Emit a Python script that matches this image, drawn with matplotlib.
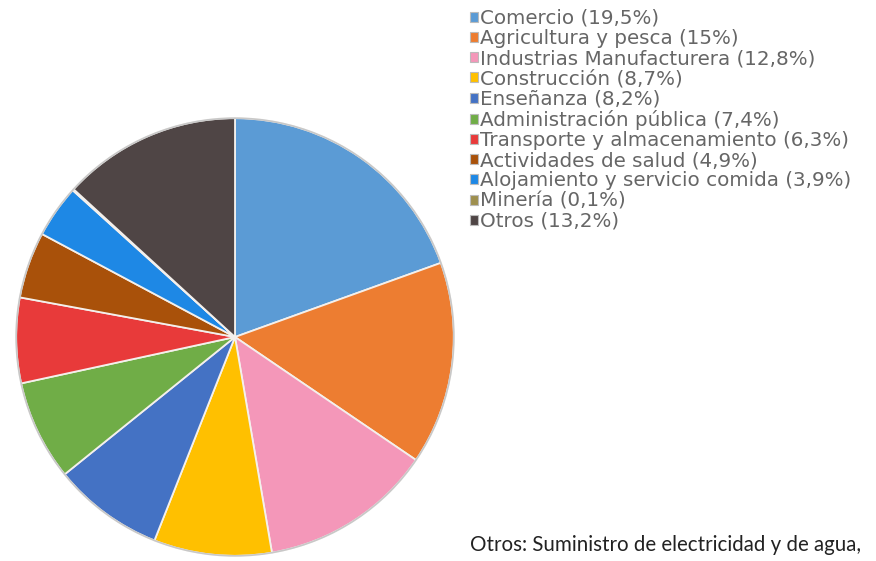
import matplotlib.pyplot as plt

# sector shares (%)
sectores = ['Comercio', 'Agricultura y pesca', 'Industrias Manufacturera', 'Construcción',
            'Enseñanza', 'Administración pública', 'Transporte y almacenamiento',
            'Actividades de salud', 'Alojamiento y servicio comida', 'Minería', 'Otros']
porcentajes = [19.5, 15, 12.8, 8.7, 8.2, 7.4, 6.3, 4.9, 3.9, 0.1, 13.2]
etiquetas = ['19,5%', '15%', '12,8%', '8,7%', '8,2%', '7,4%', '6,3%', '4,9%', '3,9%', '0,1%', '13,2%']
colores = ['#5b9bd5', '#ed7d31', '#f497b9', '#ffc000', '#4472c4', '#70ad47',
           '#e83a3a', '#a9510a', '#1e88e5', '#9e8f4e', '#4f4545']

fig = plt.figure(figsize=(8.76, 5.61), dpi=100)
ax = fig.add_axes([14 / 876, 3 / 561, 442 / 876, 442 / 561])
wedges, _ = ax.pie(porcentajes, colors=colores, startangle=90, counterclock=False,
                   radius=1,
                   wedgeprops=dict(edgecolor='#f4f0ec', linewidth=1.3))
ax.add_patch(plt.Circle((0, 0), 1.0, fill=False, edgecolor='#c8c8c8', linewidth=1.2))
ax.set_xlim(-1.01, 1.01)
ax.set_ylim(-1.01, 1.01)
ax.set_aspect('equal')
ax.axis('off')

labels = [f'{s} ({e})' for s, e in zip(sectores, etiquetas)]
leg = fig.legend(wedges, labels, loc='upper left', bbox_to_anchor=(462 / 876, 1 - 1 / 561),
                 frameon=False, prop=dict(family='DejaVu Sans', size=14.3),
                 handlelength=0.4, handleheight=0.4,
                 handletextpad=0.12, labelspacing=0.06, borderaxespad=0)
for t in leg.get_texts():
    t.set_color('#666666')
for h in leg.legend_handles:
    h.set_edgecolor('#bbbbbb')
    h.set_linewidth(0.8)

fig.text(470 / 876, 1 - 545 / 561, 'Otros: Suministro de electricidad y de agua,',
         fontsize=14.8, color='#222222', family='Lato', va='center', ha='left')

fig.savefig('out.png', dpi=100)
